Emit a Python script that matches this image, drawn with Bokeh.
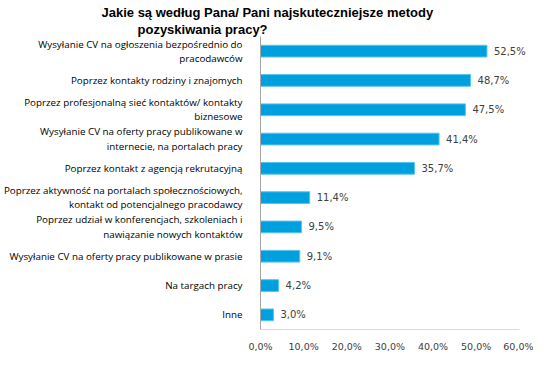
from bokeh.plotting import figure
from bokeh.models import ColumnDataSource, FixedTicker, FactorRange, Title
from bokeh.core.properties import value
from bokeh.embed import file_html
from bokeh.resources import INLINE

title_lines = ["Jakie są według Pana/ Pani najskuteczniejsze metody", "pozyskiwania pracy?"]
categories = [
    "Wysyłanie CV na ogłoszenia bezpośrednio do\npracodawców",
    "Poprzez kontakty rodziny i znajomych",
    "Poprzez profesjonalną sieć kontaktów/ kontakty\nbiznesowe",
    "Wysyłanie CV na oferty pracy publikowane w\ninternecie, na portalach pracy",
    "Poprzez kontakt z agencją rekrutacyjną",
    "Poprzez aktywność na portalach społecznościowych,\nkontakt od potencjalnego pracodawcy",
    "Poprzez udział w konferencjach, szkoleniach i\nnawiązanie nowych kontaktów",
    "Wysyłanie CV na oferty pracy publikowane w prasie",
    "Na targach pracy",
    "Inne",
]
values = [52.5, 48.7, 47.5, 41.4, 35.7, 11.4, 9.5, 9.1, 4.2, 3.0]
x_ticks = [0, 10, 20, 30, 40, 50, 60]
x_tick_labels = ["0,0%", "10,0%", "20,0%", "30,0%", "40,0%", "50,0%", "60,0%"]

labels = [("%.1f" % v).replace(".", ",") + "%" for v in values]
src = ColumnDataSource(dict(cat=categories, val=values, lab=labels))

p = figure(
    y_range=FactorRange(*reversed(categories), range_padding=0),
    x_range=(0, 61.9),
    width=533, height=354,
    min_border_left=259, min_border_right=6, min_border_top=36, min_border_bottom=24,
    output_backend="svg", toolbar_location=None,
)
p.outline_line_color = None
p.background_fill_color = "white"
p.border_fill_color = "white"
p.grid.visible = False

def style_title(t):
    t.text_font = "Liberation Sans"
    t.text_font_style = "bold"
    t.text_font_size = "13px"
    t.text_color = "#000000"
    t.standoff = 0
    t.align = "left"

p.title.text = title_lines[0]
style_title(p.title)
p.title.offset = -159
t2 = Title(text=title_lines[1])
style_title(t2)
t2.offset = -123
p.add_layout(t2, "above")

p.hbar(y="cat", right="val", left=0, height=0.4, source=src,
       fill_color="#009FDE", line_color="#5BC3EC", line_width=1)
p.text(x="val", y="cat", text="lab", source=src, x_offset=7,
       text_baseline="middle", text_align="left",
       text_font=value("DejaVu Sans"), text_font_size="10px", text_color="#404040")

xa = p.xaxis[0]
xa.ticker = FixedTicker(ticks=x_ticks)
xa.bounds = (0, 60)
xa.major_label_overrides = {t: l for t, l in zip(x_ticks, x_tick_labels)}
xa.major_tick_line_color = None
xa.minor_tick_line_color = None
xa.axis_line_color = "#D9D9D9"
xa.major_label_text_font = "DejaVu Sans"
xa.major_label_text_font_size = "9.5px"
xa.major_label_text_color = "#404040"
xa.major_label_standoff = 5

ya = p.yaxis[0]
ya.major_tick_line_color = None
ya.minor_tick_line_color = None
ya.axis_line_color = "#A6A6A6"
ya.major_label_text_font = "Open Sans"
ya.major_label_text_font_size = "9.8px"
ya.major_label_text_line_height = 1.1
ya.major_label_text_color = "#000000"
ya.major_label_standoff = 12

open("out.html", "w").write(file_html(p, INLINE))
